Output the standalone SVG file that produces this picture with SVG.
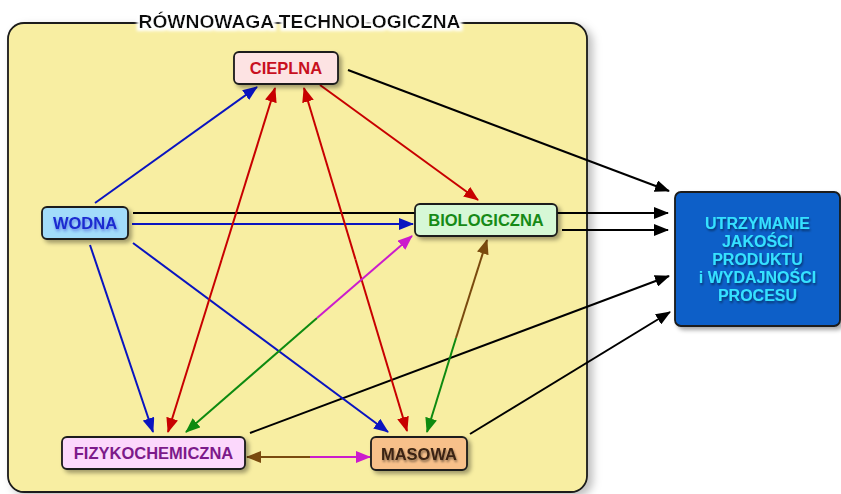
<svg xmlns="http://www.w3.org/2000/svg" width="841" height="494" viewBox="0 0 841 494">
  <defs>
    <filter id="boxShadow" x="-10%" y="-10%" width="130%" height="140%">
      <feDropShadow dx="3" dy="3" stdDeviation="2" flood-color="#000" flood-opacity="0.35"/>
    </filter>
    <filter id="panelShadow" x="-5%" y="-5%" width="115%" height="115%">
      <feDropShadow dx="5" dy="4" stdDeviation="4" flood-color="#000" flood-opacity="0.25"/>
    </filter>
    <filter id="textShadow" x="-10%" y="-30%" width="130%" height="180%">
      <feDropShadow dx="1" dy="2" stdDeviation="1.2" flood-color="#000" flood-opacity="0.45"/>
    </filter>
    <filter id="blueGlow" x="-10%" y="-30%" width="130%" height="180%">
      <feDropShadow dx="1" dy="2" stdDeviation="1.5" flood-color="#1a2ad0" flood-opacity="0.5"/>
    </filter>
    <filter id="titleHalo" x="-5%" y="-40%" width="110%" height="180%">
      <feMorphology in="SourceAlpha" operator="dilate" radius="2.5" result="d"/>
      <feGaussianBlur in="d" stdDeviation="1.5" result="b"/>
      <feFlood flood-color="#fff"/>
      <feComposite in2="b" operator="in" result="halo"/>
      <feMerge><feMergeNode in="halo"/><feMergeNode in="SourceGraphic"/></feMerge>
    </filter>
    <marker id="aBlack" markerUnits="userSpaceOnUse" markerWidth="16" markerHeight="12" refX="14" refY="6" orient="auto"><path d="M0,0 L15,6 L0,12 z" fill="#000"/></marker>
    <marker id="aBlue" markerUnits="userSpaceOnUse" markerWidth="16" markerHeight="12" refX="14" refY="6" orient="auto"><path d="M0,0 L15,6 L0,12 z" fill="#0a14c0"/></marker>
    <marker id="aRed" markerUnits="userSpaceOnUse" markerWidth="16" markerHeight="12" refX="14" refY="6" orient="auto"><path d="M0,0 L15,6 L0,12 z" fill="#c80000"/></marker>
    <marker id="aGreen" markerUnits="userSpaceOnUse" markerWidth="16" markerHeight="12" refX="14" refY="6" orient="auto"><path d="M0,0 L15,6 L0,12 z" fill="#0e8a10"/></marker>
    <marker id="aMagenta" markerUnits="userSpaceOnUse" markerWidth="16" markerHeight="12" refX="14" refY="6" orient="auto"><path d="M0,0 L15,6 L0,12 z" fill="#cc1ccc"/></marker>
    <marker id="aBrown" markerUnits="userSpaceOnUse" markerWidth="16" markerHeight="12" refX="14" refY="6" orient="auto"><path d="M0,0 L15,6 L0,12 z" fill="#7a4a0e"/></marker>
  </defs>
  <style>
    .node { stroke: #1a1a1a; stroke-width: 1.8; filter: url(#boxShadow); }
    .lbl { font-family: "Liberation Sans", Arial, sans-serif; font-weight: bold; font-size: 16.5px; text-anchor: middle; }
    .ln { fill: none; stroke-width: 2; }
    .black { stroke: #000; }
    .blue { stroke: #0a14c0; }
    .red { stroke: #c80000; }
    .green { stroke: #0e8a10; }
    .magenta { stroke: #cc1ccc; }
    .brown { stroke: #7a4a0e; }
  </style>

  <rect width="841" height="494" fill="#fff"/>

  <!-- technological balance panel -->
  <g id="panel">
    <rect x="8" y="23" width="579" height="469" rx="16" fill="#f8eea2" stroke="#1a1a1a" stroke-width="1.8" filter="url(#panelShadow)"/>
    <text x="299.5" y="28" font-family="'Liberation Sans', Arial, sans-serif" font-weight="bold" font-size="18" text-anchor="middle" textLength="322" lengthAdjust="spacingAndGlyphs" fill="#111" filter="url(#titleHalo)">RÓWNOWAGA TECHNOLOGICZNA</text>
  </g>

  <g id="connectors">
    <!-- outputs to the quality/efficiency box -->
    <line class="ln black" x1="348" y1="70" x2="669" y2="191" marker-end="url(#aBlack)"/>
    <line class="ln black" x1="133" y1="213" x2="668" y2="213" marker-end="url(#aBlack)"/>
    <line class="ln black" x1="562" y1="230" x2="668" y2="230" marker-end="url(#aBlack)"/>
    <line class="ln black" x1="250" y1="433" x2="669" y2="276" marker-end="url(#aBlack)"/>
    <line class="ln black" x1="470" y1="434" x2="670" y2="312" marker-end="url(#aBlack)"/>

    <!-- from WODNA -->
    <line class="ln blue" x1="95" y1="203" x2="257" y2="87" marker-end="url(#aBlue)"/>
    <line class="ln blue" x1="132" y1="224" x2="413" y2="224" marker-end="url(#aBlue)"/>
    <line class="ln blue" x1="90" y1="245" x2="153" y2="432" marker-end="url(#aBlue)"/>
    <line class="ln blue" x1="133" y1="243" x2="388" y2="432" marker-end="url(#aBlue)"/>

    <!-- from CIEPLNA -->
    <line class="ln red" x1="320" y1="85" x2="478" y2="200" marker-end="url(#aRed)"/>
    <line class="ln red" x1="221.5" y1="260" x2="275" y2="88" marker-end="url(#aRed)"/>
    <line class="ln red" x1="221.5" y1="260" x2="168" y2="432" marker-end="url(#aRed)"/>
    <line class="ln red" x1="355.5" y1="259.5" x2="304" y2="88" marker-end="url(#aRed)"/>
    <line class="ln red" x1="355.5" y1="259.5" x2="407" y2="431" marker-end="url(#aRed)"/>

    <!-- FIZYKOCHEMICZNA <-> BIOLOGICZNA -->
    <line class="ln green" x1="317" y1="318" x2="186" y2="432" marker-end="url(#aGreen)"/>
    <line class="ln magenta" x1="317" y1="318" x2="412" y2="236" marker-end="url(#aMagenta)"/>

    <!-- MASOWA <-> BIOLOGICZNA -->
    <line class="ln green" x1="456" y1="338" x2="427" y2="432" marker-end="url(#aGreen)"/>
    <line class="ln brown" x1="456" y1="338" x2="487" y2="240" marker-end="url(#aBrown)"/>

    <!-- FIZYKOCHEMICZNA <-> MASOWA -->
    <line class="ln brown" x1="310" y1="457" x2="247" y2="457" marker-end="url(#aBrown)"/>
    <line class="ln magenta" x1="310" y1="457" x2="370" y2="457" marker-end="url(#aMagenta)"/>
  </g>

  <g id="cieplna">
    <rect class="node" x="234" y="52" width="104" height="32" rx="5" fill="#fde3e3"/>
    <text class="lbl" x="286" y="74" fill="#c8101e">CIEPLNA</text>
  </g>

  <g id="wodna">
    <rect class="node" x="42" y="207" width="86" height="32" rx="5" fill="#a2dcfa"/>
    <text class="lbl" x="85" y="229" fill="#1a2ad0" filter="url(#blueGlow)">WODNA</text>
  </g>

  <g id="biologiczna">
    <rect class="node" x="415" y="204" width="142" height="32" rx="5" fill="#d6f8d6"/>
    <text class="lbl" x="486" y="226" fill="#168a16">BIOLOGICZNA</text>
  </g>

  <g id="fizykochemiczna">
    <rect class="node" x="62" y="437" width="183" height="32" rx="5" fill="#fcd8fc"/>
    <text class="lbl" x="153.5" y="459" fill="#7c1a8a">FIZYKOCHEMICZNA</text>
  </g>

  <g id="masowa">
    <rect class="node" x="371" y="437" width="96" height="33" rx="5" fill="#f7c08a"/>
    <text class="lbl" x="419" y="459.5" fill="#3a2412" filter="url(#textShadow)">MASOWA</text>
  </g>

  <g id="utrzymanie">
    <rect class="node" x="675" y="192" width="165" height="134" rx="6" fill="#0a5fc8"/>
    <g class="lbl" fill="#36e2ff" filter="url(#textShadow)" style="font-size:16px">
      <text x="757.5" y="229">UTRZYMANIE</text>
      <text x="757.5" y="247">JAKOŚCI</text>
      <text x="757.5" y="265">PRODUKTU</text>
      <text x="757.5" y="283">i WYDAJNOŚCI</text>
      <text x="757.5" y="301">PROCESU</text>
    </g>
  </g>
</svg>
